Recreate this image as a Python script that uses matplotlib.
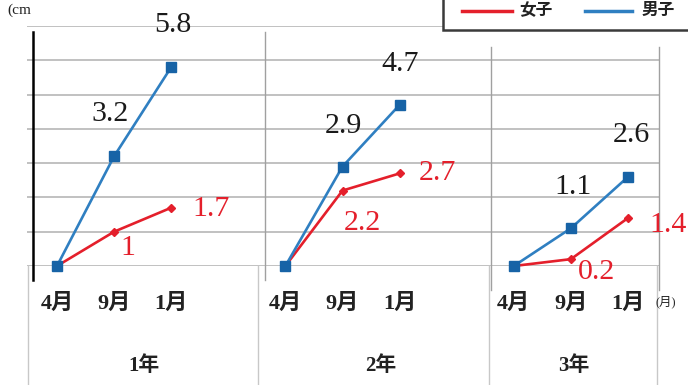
import matplotlib
matplotlib.use('Agg')
import matplotlib.pyplot as plt
from matplotlib.patches import Rectangle

# ---- data ----
years = ['1年', '2年', '3年']
months = ['4月', '9月', '1月']
boys = [[0, 3.2, 5.8], [0, 2.9, 4.7], [0, 1.1, 2.6]]     # blue series (男子)
girls = [[0, 1.0, 1.7], [0, 2.2, 2.7], [0, 0.2, 1.4]]    # red series (女子)
legend_names = ['女子', '男子']

# label offsets in pixels (dx, dy) for the 9月 and 1月 points of each year
boy_off = [[(-4, 42), (2, 42)], [(1, 41), (1, 41)], [(2, 41), (3, 42)]]
girl_off = [[(14, -16), (40, -1)], [(20, -32), (38, 0)], [(26, -13), (40, -7)]]

W, H = 688, 385
fig = plt.figure(figsize=(W / 100, H / 100), dpi=100)

# pixel helpers
X0, XS = 57.0, 57.1
Y0, YS = 266.0, 34.29
def X(px):
    return (px - X0) / XS
def Y(py):
    return (Y0 - py) / YS

ax = fig.add_axes([27 / W, 1 - 266 / H, (660 - 27) / W, (266 - 26) / H])
ax.set_xlim(X(27), X(660))
ax.set_ylim(0, 7)
ax.axis('off')

grid_c = '#bcbcbc'
for gy in range(0, 8):
    ax.axhline(gy, color=grid_c, lw=1.3, zorder=1)

# left axis line
ax.plot([X(33), X(33)], [Y(32), Y(280)], color='black', lw=1.8, clip_on=False, zorder=3)
# group separators in plot area
ax.plot([X(265), X(265)], [Y(32), Y(280)], color='#a0a0a0', lw=1.0, clip_on=False, zorder=1)
ax.plot([X(491), X(491)], [Y(47), Y(290)], color='#a0a0a0', lw=1.0, clip_on=False, zorder=1)
ax.plot([X(659), X(659)], [Y(47), Y(290)], color='#a0a0a0', lw=1.0, clip_on=False, zorder=1)
# category table lines
for px in [28, 258, 489, 657]:
    ax.plot([X(px), X(px)], [Y(266), Y(390)], color='#c8c8c8', lw=1.0, clip_on=False, zorder=1)

blue_line = '#2f7fc1'
blue_mark = '#1763a6'
red = '#e41f2b'
num_font = 'Liberation Serif'
cjk = ['Liberation Serif', 'Noto Sans CJK JP']

for g in range(len(years)):
    xs = [g * 4 + i for i in range(len(months))]
    ax.plot(xs, girls[g], color=red, lw=1.9, marker='D', ms=4.5, mfc=red, mec=red,
            zorder=4, clip_on=False)
    ax.plot(xs, boys[g], color=blue_line, lw=1.9, marker='s', ms=6.5, mfc=blue_mark,
            mec=blue_mark, zorder=5, clip_on=False)
    for i in (1, 2):
        dx, dy = boy_off[g][i - 1]
        ax.annotate(f'{boys[g][i]:g}', (xs[i], boys[g][i]), xytext=(dx, dy),
                    textcoords='offset pixels', ha='center', va='center',
                    fontsize=21.5, family=num_font, color='#1a1a1a', zorder=6,
                    annotation_clip=False)
        dx, dy = girl_off[g][i - 1]
        ax.annotate(f'{girls[g][i]:g}', (xs[i], girls[g][i]), xytext=(dx, dy),
                    textcoords='offset pixels', ha='center', va='center',
                    fontsize=21.5, family=num_font, color=red, zorder=6,
                    annotation_clip=False)
    for i, m in enumerate(months):
        ax.text(xs[i], Y(304), m, ha='center', va='center', fontsize=16,
                family=cjk, weight='bold', color='#222222', clip_on=False)

year_px = [144, 381, 574]
for g, yl in enumerate(years):
    ax.text(X(year_px[g]), Y(366), yl, ha='center', va='center', fontsize=15,
            family=cjk, weight='bold', color='#222222', clip_on=False)

ax.text(X(666), Y(302), '(月)', ha='center', va='center', fontsize=9,
        family=cjk, color='#222222', clip_on=False)

# unit label
fig.text(7 / W, 1 - 10 / H, '(cm', ha='left', va='center', fontsize=11,
         family=cjk, color='#222222')

# legend box (partially cut off at the top/right)
fig.add_artist(Rectangle((443 / W, 1 - 30 / H), (720 - 443) / W, 60 / H,
                         transform=fig.transFigure, facecolor='white',
                         edgecolor='#3a3a3a', lw=1.8, zorder=10, clip_on=False))
fig.add_artist(plt.Line2D([462 / W, 512 / W], [1 - 11 / H, 1 - 11 / H],
                          transform=fig.transFigure, color=red, lw=2.5, zorder=11))
fig.add_artist(plt.Line2D([585 / W, 632 / W], [1 - 11 / H, 1 - 11 / H],
                          transform=fig.transFigure, color=blue_line, lw=2.5, zorder=11))
fig.text(536 / W, 1 - 11 / H, legend_names[0], ha='center', va='center', fontsize=12,
         family=cjk, weight='bold', color='#222222', zorder=11)
fig.text(658 / W, 1 - 11 / H, legend_names[1], ha='center', va='center', fontsize=12,
         family=cjk, weight='bold', color='#222222', zorder=11)

fig.savefig('out.png', dpi=100)
